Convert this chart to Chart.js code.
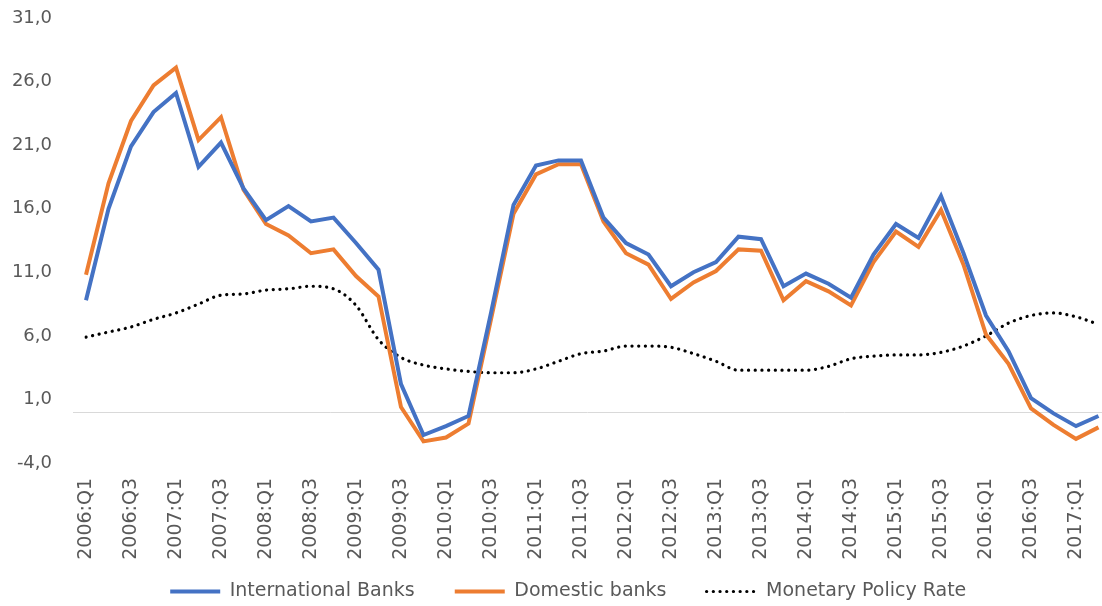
<!DOCTYPE html>
<html>
<head>
<meta charset="utf-8">
<script src="https://cdn.jsdelivr.net/npm/chart.js@4"></script>
<style>
    html, body { margin: 0; padding: 0; background: #fff; }
    #wrap { width: 1102px; height: 606px; }
</style>
</head>
<body>
<div id="wrap"><canvas id="lendingChart"></canvas></div>
<script>
const quarters = [
    '2006:Q1', '2006:Q2', '2006:Q3', '2006:Q4',
    '2007:Q1', '2007:Q2', '2007:Q3', '2007:Q4',
    '2008:Q1', '2008:Q2', '2008:Q3', '2008:Q4',
    '2009:Q1', '2009:Q2', '2009:Q3', '2009:Q4',
    '2010:Q1', '2010:Q2', '2010:Q3', '2010:Q4',
    '2011:Q1', '2011:Q2', '2011:Q3', '2011:Q4',
    '2012:Q1', '2012:Q2', '2012:Q3', '2012:Q4',
    '2013:Q1', '2013:Q2', '2013:Q3', '2013:Q4',
    '2014:Q1', '2014:Q2', '2014:Q3', '2014:Q4',
    '2015:Q1', '2015:Q2', '2015:Q3', '2015:Q4',
    '2016:Q1', '2016:Q2', '2016:Q3', '2016:Q4',
    '2017:Q1', '2017:Q2'
];

const internationalBanks = [
    8.8, 16.0, 20.9, 23.6, 25.1, 19.3, 21.2, 17.6,
    15.1, 16.2, 15.0, 15.3, 13.3, 11.2, 2.2, -1.8,
    -1.1, -0.3, 7.8, 16.3, 19.4, 19.8, 19.8, 15.3,
    13.3, 12.4, 9.9, 11.0, 11.8, 13.8, 13.6, 9.9,
    10.9, 10.1, 9.0, 12.4, 14.8, 13.7, 17.0, 12.5,
    7.6, 4.8, 1.1, -0.1, -1.1, -0.3
];

const domesticBanks = [
    10.8, 18.0, 22.9, 25.7, 27.1, 21.4, 23.2, 17.5,
    14.8, 13.9, 12.5, 12.8, 10.7, 9.1, 0.4, -2.3,
    -2.0, -0.9, 7.3, 15.6, 18.7, 19.5, 19.5, 15.0,
    12.5, 11.6, 8.9, 10.2, 11.1, 12.8, 12.7, 8.8,
    10.3, 9.5, 8.4, 11.8, 14.2, 13.0, 15.9, 11.6,
    6.1, 3.8, 0.3, -1.0, -2.1, -1.2
];

const policyRate = [
    5.9, 6.3, 6.7, 7.3, 7.8, 8.5, 9.2, 9.3,
    9.6, 9.7, 9.9, 9.7, 8.4, 5.7, 4.3, 3.7,
    3.4, 3.2, 3.1, 3.1, 3.4, 4.0, 4.6, 4.8,
    5.2, 5.2, 5.1, 4.6, 4.0, 3.3, 3.3, 3.3,
    3.3, 3.6, 4.2, 4.4, 4.5, 4.5, 4.7, 5.2,
    6.0, 7.0, 7.6, 7.8, 7.5, 6.9
];

const yTicks = [-4, 1, 6, 11, 16, 21, 26, 31];

const fontFamily = "'DejaVu Sans', sans-serif";
const textColor = '#595959';
const hiddenTick = 'rgba(0,0,0,0)';

// horizontal axis line at zero, a bit wider than the plot like Excel draws it
const zeroLine = {
    id: 'zeroLine',
    beforeDatasetsDraw(chart) {
        const {ctx, chartArea, scales} = chart;
        const y = Math.round(scales.y.getPixelForValue(0)) + 0.5;
        ctx.save();
        ctx.strokeStyle = '#d9d9d9';
        ctx.lineWidth = 1;
        ctx.beginPath();
        ctx.moveTo(chartArea.left - 13, y);
        ctx.lineTo(chart.width, y);
        ctx.stroke();
        ctx.restore();
    }
};

// Excel centres the legend a little right of the canvas centre
const legendShift = {
    id: 'legendShift',
    afterLayout(chart) {
        if (chart.legend) {
            chart.legend.left += 19;
            chart.legend.right += 19;
        }
    }
};

new Chart(document.getElementById('lendingChart'), {
    type: 'line',
    data: {
        labels: quarters,
        datasets: [
            {
                label: 'International Banks',
                data: internationalBanks,
                borderColor: '#4472C4',
                backgroundColor: '#4472C4',
                borderWidth: 4,
                pointRadius: 0,
                tension: 0,
            },
            {
                label: 'Domestic banks',
                data: domesticBanks,
                borderColor: '#ED7D31',
                backgroundColor: '#ED7D31',
                borderWidth: 4,
                pointRadius: 0,
                tension: 0,
            },
            {
                label: 'Monetary Policy Rate',
                data: policyRate,
                borderColor: '#000000',
                backgroundColor: '#000000',
                borderWidth: 3.2,
                borderDash: [0.1, 6.6],
                borderCapStyle: 'round',
                pointRadius: 0,
                cubicInterpolationMode: 'monotone',
            }
        ]
    },
    options: {
        responsive: true,
        maintainAspectRatio: false,
        animation: false,
        layout: {
            padding: {top: 18, right: 3.5, left: 0, bottom: -5}
        },
        scales: {
            x: {
                offset: false,
                grid: {
                    display: true,
                    drawOnChartArea: false,
                    drawTicks: true,
                    tickLength: 15,
                    color: hiddenTick
                },
                border: {display: false},
                ticks: {
                    autoSkip: false,
                    maxRotation: 90,
                    minRotation: 90,
                    padding: 0,
                    color: textColor,
                    font: {size: 19, family: fontFamily},
                    callback: function (value, index) {
                        return index % 2 === 0 ? quarters[index] : '';
                    }
                },
                afterFit: function (scale) {
                    scale.height = 97;
                    scale.paddingLeft = 0;
                    scale.paddingRight = 0;
                }
            },
            y: {
                min: -4,
                max: 31,
                grid: {
                    display: true,
                    drawOnChartArea: false,
                    drawTicks: true,
                    tickLength: 34,
                    color: hiddenTick
                },
                border: {display: false},
                afterBuildTicks: function (scale) {
                    scale.ticks = yTicks.map(v => ({value: v}));
                },
                afterFit: function (scale) {
                    scale.width = 86;
                    scale.paddingTop = 0;
                    scale.paddingBottom = 0;
                },
                ticks: {
                    padding: 0,
                    color: textColor,
                    font: {size: 18, family: fontFamily},
                    callback: function (value) {
                        return value.toFixed(1).replace('.', ',');
                    }
                }
            }
        },
        plugins: {
            legend: {
                position: 'bottom',
                labels: {
                    usePointStyle: true,
                    pointStyle: 'line',
                    pointStyleWidth: 50,
                    boxHeight: 19,
                    padding: 22,
                    color: textColor,
                    font: {size: 19, family: fontFamily},
                    generateLabels: function (chart) {
                        const last = chart.data.datasets.length - 1;
                        return chart.data.datasets.map((ds, i) => ({
                            // trailing spaces widen the gap before the next entry
                            text: i < last ? ds.label + '   ' : ds.label,
                            fillStyle: ds.borderColor,
                            strokeStyle: ds.borderColor,
                            lineWidth: ds.borderWidth,
                            lineDash: ds.borderDash || [],
                            lineCap: ds.borderCapStyle || 'butt',
                            pointStyle: 'line',
                            fontColor: textColor,
                            hidden: false,
                            datasetIndex: i
                        }));
                    }
                }
            },
            tooltip: {enabled: false}
        }
    },
    plugins: [zeroLine, legendShift]
});
</script>
</body>
</html>
